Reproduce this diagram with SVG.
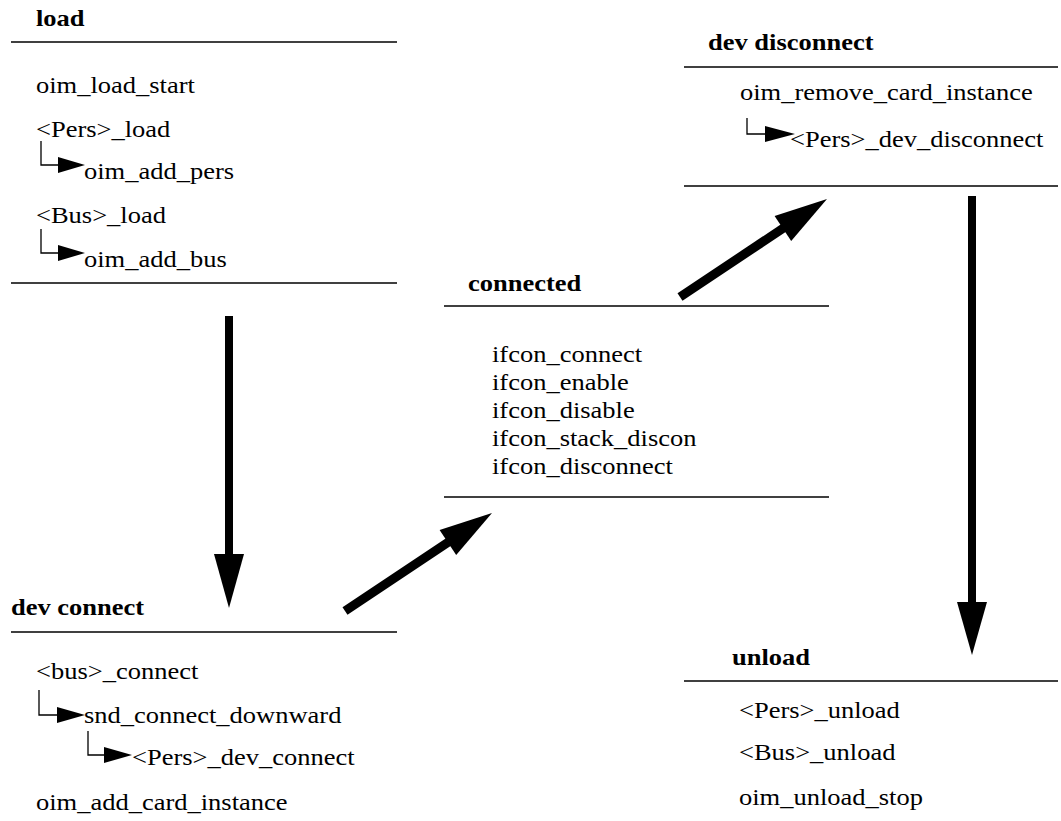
<svg xmlns="http://www.w3.org/2000/svg" width="1061" height="821" viewBox="0 0 1061 821">
<style>
.t{font-family:"Liberation Serif","Times New Roman",serif;font-size:23px;fill:#000}
.b{font-weight:bold}
.sep{stroke:#000;stroke-width:1.5;fill:none}
.br{stroke:#000;stroke-width:1.3;fill:none}
.ah{fill:#000;stroke:none}
.sh{stroke:#000;fill:none;stroke-linecap:butt}
</style>
<rect width="1061" height="821" fill="#fff"/>
<g id="load">
<text class="t b" transform="translate(36,26) scale(1.152,1)">load</text>
<line class="sep" x1="11" y1="42" x2="397" y2="42"/>
<text class="t" transform="translate(36,93) scale(1.152,1)">oim_load_start</text>
<text class="t" transform="translate(36,137) scale(1.152,1)">&lt;Pers&gt;_load</text>
<path class="br" d="M41 141 V165 H58"/>
<polygon class="ah" points="58,157 85,165 58,173"/>
<text class="t" transform="translate(84,179) scale(1.152,1)">oim_add_pers</text>
<text class="t" transform="translate(36,223) scale(1.152,1)">&lt;Bus&gt;_load</text>
<path class="br" d="M41 229 V253 H58"/>
<polygon class="ah" points="58,245 85,253 58,261"/>
<text class="t" transform="translate(84,267) scale(1.152,1)">oim_add_bus</text>
<line class="sep" x1="11" y1="283" x2="397" y2="283"/>
</g>
<g id="dev-connect">
<text class="t b" transform="translate(11,615) scale(1.152,1)">dev connect</text>
<line class="sep" x1="11" y1="632" x2="397" y2="632"/>
<text class="t" transform="translate(36,679) scale(1.152,1)">&lt;bus&gt;_connect</text>
<path class="br" d="M39 690 V715 H57"/>
<polygon class="ah" points="57,707 85,715 57,723"/>
<text class="t" transform="translate(84,723) scale(1.152,1)">snd_connect_downward</text>
<path class="br" d="M88 731 V755 H104"/>
<polygon class="ah" points="104,747 132,755 104,763"/>
<text class="t" transform="translate(132,765) scale(1.152,1)">&lt;Pers&gt;_dev_connect</text>
<text class="t" transform="translate(36,810) scale(1.152,1)">oim_add_card_instance</text>
</g>
<g id="connected">
<text class="t b" transform="translate(468,291) scale(1.152,1)">connected</text>
<line class="sep" x1="444" y1="306" x2="829" y2="306"/>
<text class="t" transform="translate(492,362) scale(1.152,1)">ifcon_connect</text>
<text class="t" transform="translate(492,390) scale(1.152,1)">ifcon_enable</text>
<text class="t" transform="translate(492,418) scale(1.152,1)">ifcon_disable</text>
<text class="t" transform="translate(492,446) scale(1.152,1)">ifcon_stack_discon</text>
<text class="t" transform="translate(492,474) scale(1.152,1)">ifcon_disconnect</text>
<line class="sep" x1="444" y1="497" x2="829" y2="497"/>
</g>
<g id="dev-disconnect">
<text class="t b" transform="translate(708,50) scale(1.152,1)">dev disconnect</text>
<line class="sep" x1="684" y1="67" x2="1058" y2="67"/>
<text class="t" transform="translate(740,100) scale(1.152,1)">oim_remove_card_instance</text>
<path class="br" d="M747 118 V134 H765"/>
<polygon class="ah" points="765,126 795,134 765,142"/>
<text class="t" transform="translate(790,147) scale(1.152,1)">&lt;Pers&gt;_dev_disconnect</text>
<line class="sep" x1="684" y1="186" x2="1058" y2="186"/>
</g>
<g id="unload">
<text class="t b" transform="translate(732,665) scale(1.152,1)">unload</text>
<line class="sep" x1="684" y1="681" x2="1058" y2="681"/>
<text class="t" transform="translate(739,718) scale(1.152,1)">&lt;Pers&gt;_unload</text>
<text class="t" transform="translate(739,760) scale(1.152,1)">&lt;Bus&gt;_unload</text>
<text class="t" transform="translate(739,805) scale(1.152,1)">oim_unload_stop</text>
</g>
<g id="connectors">
<line class="sh" x1="229" y1="316" x2="229" y2="556" stroke-width="8"/>
<polygon class="ah" points="214,554 244,554 229,608"/>
<line class="sh" x1="345" y1="611" x2="450" y2="541" stroke-width="9"/>
<polygon class="ah" points="439.6,529.9 492,513 456.2,554.9"/>
<line class="sh" x1="680" y1="297" x2="785" y2="227" stroke-width="9"/>
<polygon class="ah" points="774.6,215.9 827,199 791.2,240.9"/>
<line class="sh" x1="972" y1="196" x2="972" y2="604" stroke-width="8"/>
<polygon class="ah" points="957,602 987,602 972,655"/>
</g>
</svg>
